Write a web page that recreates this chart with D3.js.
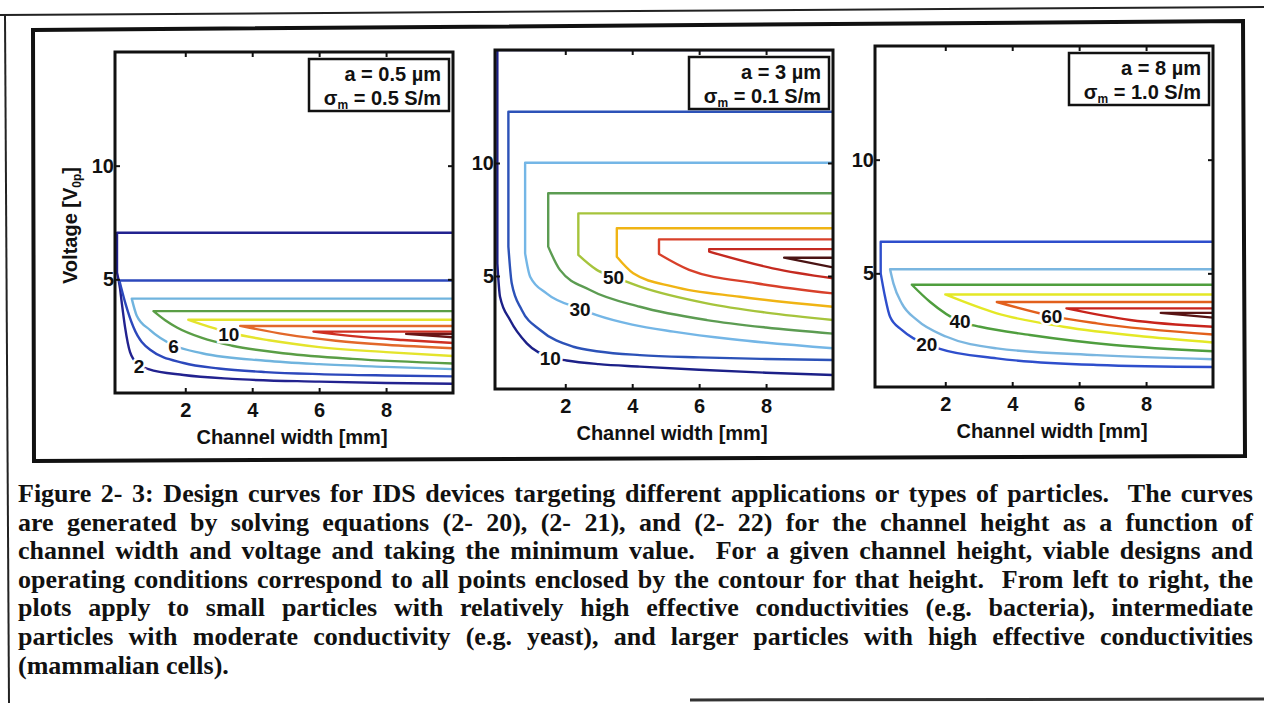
<!DOCTYPE html>
<html lang="en">
<head>
<meta charset="UTF-8">
<title>Design curves for IDS devices</title>
<style>
	body { margin: 0; background: #fff; }
	svg { display: block; }
	.sans { font-family: "Liberation Sans", Arial, sans-serif; font-weight: bold; }
	.caption { font-family: "Liberation Serif", "Times New Roman", serif; font-weight: bold; font-size: 26px; white-space: pre; }
</style>
<script src="https://cdn.jsdelivr.net/npm/d3@7"></script>
</head>
<body>
<script>
const width = 1264
const height = 703

// shared axes
const xDomain = [-0.1, 10]
const yDomain = [0, 15]
const xTicks = [2, 4, 6, 8]
const yTicks = [5, 10]
const xTitle = "Channel width [mm]"

// panel 1 : a = 0.5 um, sigma = 0.5 S/m
const p1A = "0.5"
const p1Sigma = "0.5"
const p1Levels = [2, 4, 6, 8, 10, 12, 14, 16]
const p1Colors = ["#22228f", "#2c48bc", "#70b4de", "#5a9e46", "#e4e42c", "#e2682a", "#cf2f22", "#6b1515"]
const p1Top = [7.05, 4.95, 4.15, 3.6, 3.22, 2.95, 2.7, 2.6]
const p1Left = [-0.04, 0.03, 0.4, 1.05, 2.09, 3.64, 5.83, 8.6]
const p1Lower = [
	[[-0.04, 5.3], [0.05, 4.6], [0.1, 4.0], [0.2, 2.9], [0.35, 1.8], [0.6, 1.25], [0.9, 1.05], [1.95, 0.79], [3.4, 0.62], [6, 0.5], [8, 0.44], [10, 0.41]],
	[[0.03, 4.95], [0.2, 4.0], [0.45, 2.9], [0.95, 1.9], [1.95, 1.32], [3, 1.08], [4.4, 0.92], [6, 0.83], [8, 0.77], [10, 0.73]],
	[[0.4, 4.15], [0.55, 3.4], [0.95, 2.77], [1.65, 2.1], [2.5, 1.75], [4.4, 1.42], [6, 1.27], [8, 1.15], [10, 1.05]],
	[[1.05, 3.6], [1.4, 3.2], [1.75, 2.88], [2.5, 2.42], [3.4, 2.08], [5, 1.74], [7, 1.5], [10, 1.3]],
	[[2.09, 3.22], [2.7, 2.92], [3.3, 2.66], [4.5, 2.32], [6, 2.02], [8, 1.8], [10, 1.63]],
	[[3.64, 2.95], [5, 2.58], [6.5, 2.3], [8, 2.12], [10, 1.97]],
	[[5.83, 2.7], [7, 2.5], [8.5, 2.33], [10, 2.2]],
	[[8.6, 2.6], [10, 2.45]]
]
const p1LabelText = ["2", "6", "10"]
const p1LabelAt = [[0.62, 1.2], [1.65, 2.05], [3.3, 2.6]]

// panel 2 : a = 3 um, sigma = 0.1 S/m
const p2A = "3"
const p2Sigma = "0.1"
const p2Levels = [10, 20, 30, 40, 50, 60, 70, 80, 90]
const p2Colors = ["#1c2088", "#2c52b8", "#74b6e6", "#5c9c52", "#a6c43c", "#f0b414", "#d8402a", "#c42a20", "#4a1414"]
const p2Top = [15, 12.27, 10.01, 8.66, 7.77, 7.11, 6.62, 6.19, 5.81]
const p2Left = [-0.03, 0.3, 0.8, 1.49, 2.39, 3.54, 4.8, 6.3, 8.54]
const p2Lower = [
	[[-0.03, 5.56], [0.05, 4.08], [0.35, 3.05], [0.85, 2.02], [1.55, 1.4], [2.04, 1.26], [3, 1.1], [4.23, 0.99], [6, 0.85], [8, 0.72], [10, 0.62]],
	[[0.3, 6.3], [0.4, 4.68], [0.7, 3.5], [1.25, 2.61], [2.24, 1.87], [3, 1.66], [4.23, 1.5], [6, 1.4], [8, 1.33], [10, 1.28]],
	[[0.8, 6.0], [0.95, 4.97], [1.44, 4.23], [2.44, 3.55], [2.94, 3.27], [4, 2.85], [5.23, 2.54], [7, 2.2], [10, 1.8]],
	[[1.49, 6.3], [1.84, 5.27], [2.74, 4.38], [4.23, 3.64], [6.23, 3.05], [8, 2.72], [10, 2.45]],
	[[2.39, 5.93], [2.94, 5.27], [3.44, 4.97], [4.23, 4.53], [6.23, 3.79], [8, 3.38], [10, 3.05]],
	[[3.54, 5.85], [4.03, 5.12], [5.23, 4.53], [7.22, 4.08], [10, 3.64]],
	[[4.8, 5.97], [5.7, 5.27], [7.7, 4.68], [10, 4.23]],
	[[6.3, 6.08], [8.2, 5.34], [10, 4.9]],
	[[8.54, 5.81], [10, 5.38]]
]
const p2LabelText = ["10", "30", "50"]
const p2LabelAt = [[1.55, 1.38], [2.44, 3.55], [3.44, 4.97]]

// panel 3 : a = 8 um, sigma = 1.0 S/m
const p3A = "8"
const p3Sigma = "1.0"
const p3Levels = [20, 30, 40, 50, 60, 70, 80]
const p3Colors = ["#2e4ecc", "#7ab6e0", "#4f9e3e", "#e4e826", "#e2601c", "#c8241c", "#581414"]
const p3Top = [6.39, 5.18, 4.5, 4.07, 3.74, 3.46, 3.26]
const p3Left = [0.07, 0.35, 1.0, 2.0, 3.54, 5.62, 8.44]
const p3Lower = [
	[[0.07, 5.0], [0.2, 3.97], [0.35, 3.09], [0.7, 2.51], [1.05, 2.14], [1.45, 1.9], [1.84, 1.68], [3.54, 1.26], [6.53, 0.97], [10, 0.88]],
	[[0.35, 5.18], [0.45, 4.56], [0.7, 3.68], [1.15, 2.95], [2.04, 2.21], [3.54, 1.7], [6.53, 1.4], [10, 1.22]],
	[[1.0, 4.5], [1.54, 3.75], [2.44, 2.88], [3.04, 2.65], [4.53, 2.29], [7.03, 1.85], [10, 1.57]],
	[[2.0, 4.07], [3.54, 3.24], [5.53, 2.65], [8.02, 2.21], [10, 1.96]],
	[[3.54, 3.74], [5.18, 3.12], [6.53, 2.8], [10, 2.31]],
	[[5.62, 3.46], [7.52, 2.95], [10, 2.65]],
	[[8.44, 3.26], [10, 3.05]]
]
const p3LabelText = ["20", "40", "60"]
const p3LabelAt = [[1.45, 1.9], [2.44, 2.88], [5.18, 3.12]]

// caption, one entry per printed line
const captionLines = [
	"Figure 2- 3: Design curves for IDS devices targeting different applications or types of particles.  The curves",
	"are generated by solving equations (2- 20), (2- 21), and (2- 22) for the channel height as a function of",
	"channel width and voltage and taking the minimum value.  For a given channel height, viable designs and",
	"operating conditions correspond to all points enclosed by the contour for that height.  From left to right, the",
	"plots apply to small particles with relatively high effective conductivities (e.g. bacteria), intermediate",
	"particles with moderate conductivity (e.g. yeast), and larger particles with high effective conductivities",
	"(mammalian cells)."
]

const panels = [
	{box: [115, 52, 453, 393], a: p1A, sigma: p1Sigma, levels: p1Levels, colors: p1Colors, top: p1Top, left: p1Left, lower: p1Lower, labelText: p1LabelText, labelAt: p1LabelAt, yTitle: true},
	{box: [495, 50, 833, 389], a: p2A, sigma: p2Sigma, levels: p2Levels, colors: p2Colors, top: p2Top, left: p2Left, lower: p2Lower, labelText: p2LabelText, labelAt: p2LabelAt, yTitle: false},
	{box: [875, 46, 1213, 387], a: p3A, sigma: p3Sigma, levels: p3Levels, colors: p3Colors, top: p3Top, left: p3Left, lower: p3Lower, labelText: p3LabelText, labelAt: p3LabelAt, yTitle: false}
]

const svg = d3.select("body").append("svg")
	.attr("width", width)
	.attr("height", height)

//page borders (scanned page, slightly tilted)
svg.append("line").attr("x1", 0).attr("y1", 15).attr("x2", width).attr("y2", 7)
	.attr("stroke", "#222").attr("stroke-width", 2)
svg.append("line").attr("x1", 5).attr("y1", 15).attr("x2", 9).attr("y2", height)
	.attr("stroke", "#222").attr("stroke-width", 2)
svg.append("line").attr("x1", 690).attr("y1", 700).attr("x2", width).attr("y2", 699)
	.attr("stroke", "#333").attr("stroke-width", 3)
svg.append("path").attr("d", "M33,30 L1243,21 L1245,456 L34,461 Z")
	.attr("fill", "none").attr("stroke", "#111").attr("stroke-width", 4)

panels.forEach(function(p, i) {
	const [x0, y0, x1, y1] = p.box
	const x = d3.scaleLinear().domain(xDomain).range([x0, x1])
	const y = d3.scaleLinear().domain(yDomain).range([y1, y0])
	const g = svg.append("g").attr("class", "sans")

	g.append("clipPath").attr("id", "clip" + i)
		.append("rect").attr("x", x0).attr("y", y0).attr("width", x1 - x0).attr("height", y1 - y0)

	const straight = d3.line().x(d => x(d[0])).y(d => y(d[1]))
	const smooth = d3.line().x(d => x(d[0])).y(d => y(d[1])).curve(d3.curveMonotoneX)

//contours: top edge, left edge, then the lower branch
	const cg = g.append("g").attr("clip-path", "url(#clip" + i + ")")
	cg.selectAll("path")
		.data(p.levels)
		.join("path")
		.attr("d", function(d, k) {
			const low = p.lower[k]
			return straight([[10, p.top[k]], [p.left[k], p.top[k]], low[0]]) + smooth(low).replace("M", "L")
		})
		.attr("fill", "none")
		.attr("stroke", (d, k) => p.colors[k])
		.attr("stroke-width", 2.4)
		.attr("stroke-linejoin", "round")

//contour labels with a white halo that breaks the line
	cg.selectAll("text")
		.data(p.labelText)
		.join("text")
		.attr("x", (d, k) => x(p.labelAt[k][0]))
		.attr("y", (d, k) => y(p.labelAt[k][1]))
		.attr("dy", "0.36em")
		.attr("text-anchor", "middle")
		.attr("font-size", 19)
		.attr("fill", "#111")
		.attr("stroke", "#fff")
		.attr("stroke-width", 5)
		.attr("paint-order", "stroke")
		.text(d => d)

//axes with inward ticks
	const ax = g.append("g").attr("font-size", 20)
	ax.append("g").attr("transform", "translate(0," + y1 + ")")
		.call(d3.axisBottom(x).tickValues(xTicks).tickSize(-5).tickPadding(10))
	ax.append("g").attr("transform", "translate(0," + y0 + ")")
		.call(d3.axisTop(x).tickValues(xTicks).tickSize(-5).tickFormat(""))
	ax.append("g").attr("transform", "translate(" + x0 + ",0)")
		.call(d3.axisLeft(y).tickValues(yTicks).tickSize(-5).tickPadding(1))
	ax.append("g").attr("transform", "translate(" + x1 + ",0)")
		.call(d3.axisRight(y).tickValues(yTicks).tickSize(-5).tickFormat(""))
	ax.selectAll(".domain").remove()
	ax.selectAll(".tick line").attr("stroke", "#111").attr("stroke-width", 2)
	ax.selectAll(".tick text").attr("fill", "#111")
	ax.selectAll("g").attr("font-family", null).attr("font-size", null)

	g.append("rect")
		.attr("x", x0).attr("y", y0).attr("width", x1 - x0).attr("height", y1 - y0)
		.attr("fill", "none").attr("stroke", "#111").attr("stroke-width", 3)

	g.append("text")
		.attr("x", (x0 + x1) / 2 + 8).attr("y", y1 + 51)
		.attr("text-anchor", "middle").attr("font-size", 20).attr("fill", "#111")
		.text(xTitle)

	if (p.yTitle) {
		const t = g.append("text")
			.attr("transform", "translate(77," + ((y0 + y1) / 2 + 3) + ") rotate(-90)")
			.attr("text-anchor", "middle").attr("font-size", 20).attr("fill", "#111")
		t.append("tspan").text("Voltage [V")
		t.append("tspan").attr("font-size", 12).attr("dy", 4).text("0p")
		t.append("tspan").attr("dy", -4).text("]")
	}

//legend box
	const lw = 140, lh = 52
	const lx = x1 - 4 - lw, ly = y0 + 7
	g.append("rect").attr("x", lx).attr("y", ly).attr("width", lw).attr("height", lh)
		.attr("fill", "#fff").attr("stroke", "#111").attr("stroke-width", 2.5)
	g.append("text").attr("x", lx + lw - 8).attr("y", ly + 22)
		.attr("text-anchor", "end").attr("font-size", 20).attr("fill", "#111")
		.text("a = " + p.a + " \u00b5m")
	const s = g.append("text").attr("x", lx + lw - 8).attr("y", ly + 46)
		.attr("text-anchor", "end").attr("font-size", 20).attr("fill", "#111")
	s.append("tspan").text("\u03c3")
	s.append("tspan").attr("font-size", 12).attr("dy", 4).text("m")
	s.append("tspan").attr("dy", -4).text(" = " + p.sigma + " S/m")
})

//caption, justified between the margins
const capLeft = 18, capRight = 1253
svg.selectAll(".caption")
	.data(captionLines)
	.join("text")
	.attr("class", "caption")
	.attr("x", capLeft)
	.attr("y", (d, i) => 502 + i * 28.6)
	.attr("fill", "#111")
	.text(d => d)
	.each(function(d, i) {
		if (i === captionLines.length - 1) return
		const natural = this.getComputedTextLength()
		const gaps = (d.match(/ /g) || []).length
		d3.select(this).attr("word-spacing", (capRight - capLeft - natural) / gaps)
	})
</script>
</body>
</html>
